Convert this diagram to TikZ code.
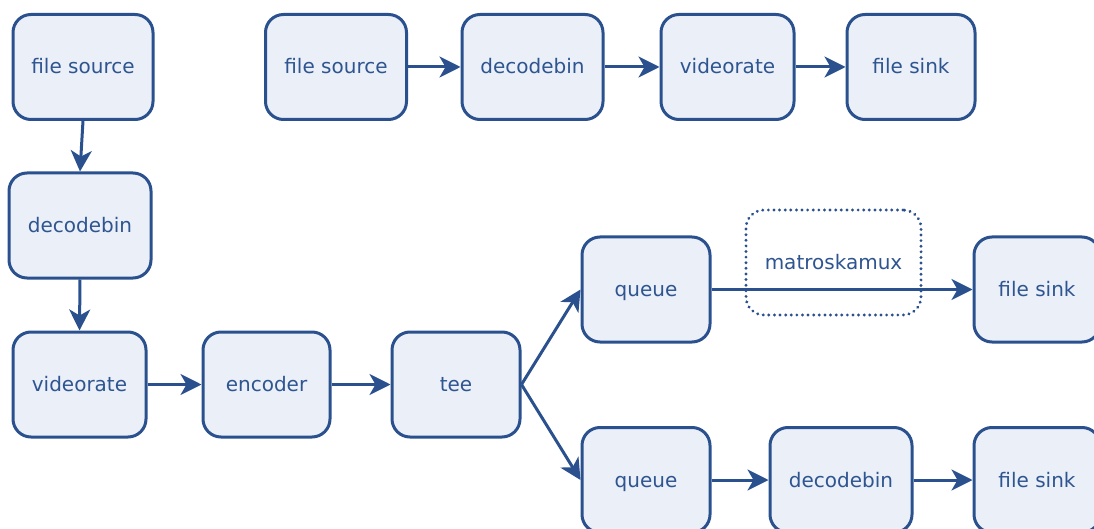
\documentclass[tikz,border=0pt]{standalone}
\usepackage{fontspec}
\setmainfont{DejaVu Sans}
\usetikzlibrary{arrows.meta}
\definecolor{edge}{HTML}{2A518E}
\definecolor{boxfill}{HTML}{EAEFF8}
\definecolor{label}{HTML}{2E5590}
\tikzset{
  boxtext/.style={text=label, font=\fontsize{20}{24}\selectfont,
    text height=18pt, text depth=4pt},
  element/.style={boxtext, draw=edge, fill=boxfill, line width=3pt, rounded corners=18pt,
    minimum height=105pt, inner sep=0pt},
  virtual/.style={boxtext, draw=edge, line width=3.2pt, rounded corners=18pt,
    dash pattern=on 0.01pt off 5.6pt, line cap=round,
    minimum width=175pt, minimum height=105pt, inner sep=0pt},
  link/.style={draw=edge, line width=3pt, -{Stealth[length=21pt,width=21pt,inset=6pt]}}
}
\begin{document}
\begin{tikzpicture}[x=1pt, y=-1pt]
  \useasboundingbox (0,0) rectangle (1094,529);
  \clip (0,0) rectangle (1094,529);

  % left column and lower pipeline
  \node[element, minimum width=140pt] (fs1)  at (83,67)      {file source};
  \node[element, minimum width=142pt] (dec1) at (80,225.5)   {decodebin};
  \node[element, minimum width=133pt] (vr1)  at (79.5,384.5) {videorate};
  \node[element, minimum width=127pt] (enc)  at (266.5,384.5) {encoder};
  \node[element, minimum width=128pt] (tee)  at (456,384.5)  {tee};
  \node[element, minimum width=128pt] (q1)   at (646,289.5)  {queue};
  \node[element, minimum width=128pt] (q2)   at (646,480)    {queue};
  \node[element, minimum width=142pt] (dec3) at (841,480)    {decodebin};
  \node[element, minimum width=126pt] (sink2) at (1037,289.5) {file sink};
  \node[element, minimum width=126pt] (sink3) at (1037,480)   {file sink};
  \node[virtual] (mux) at (833.5,262.5) {matroskamux};

  % upper pipeline
  \node[element, minimum width=141pt] (fs2)  at (336,67)   {file source};
  \node[element, minimum width=141pt] (dec2) at (532.5,67) {decodebin};
  \node[element, minimum width=133pt] (vr2)  at (727.5,67) {videorate};
  \node[element, minimum width=128pt] (sink1) at (911,67)  {file sink};

  % connections
  \draw[link] (fs1.south) -- (dec1.north);
  \draw[link] (dec1.south) -- (vr1.north);
  \draw[link] (vr1) -- (enc);
  \draw[link] (enc) -- (tee);
  \draw[link] (tee.east) -- (q1.west);
  \draw[link] (tee.east) -- (q2.west);
  \draw[link] (q1) -- (sink2);
  \draw[link] (q2) -- (dec3);
  \draw[link] (dec3) -- (sink3);
  \draw[link] (fs2) -- (dec2);
  \draw[link] (dec2) -- (vr2);
  \draw[link] (vr2) -- (sink1);
\end{tikzpicture}
\end{document}
